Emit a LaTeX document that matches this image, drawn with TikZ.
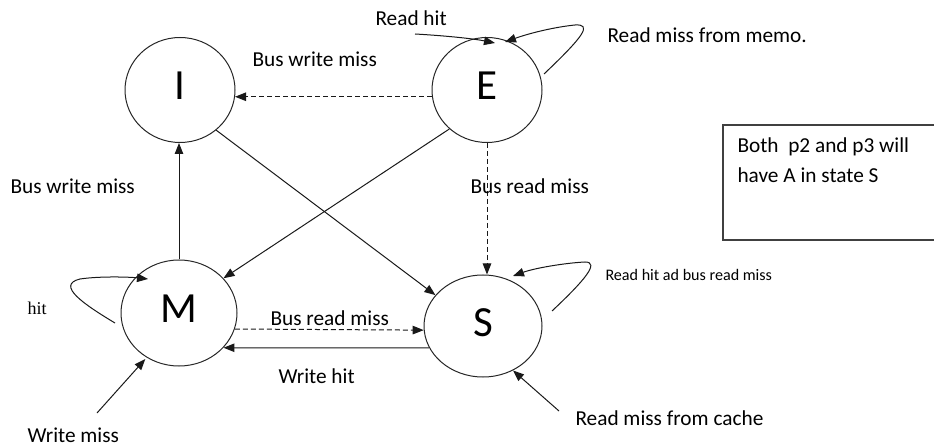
\documentclass[tikz,border=0pt]{standalone}
\usepackage{fontspec}
\setmainfont{Carlito}
\newfontfamily\timesfont{Liberation Serif}
\usetikzlibrary{arrows.meta,shapes.geometric,calc}

\begin{document}
\begin{tikzpicture}[x=1pt,y=-1pt,
  line width=1pt,
  >={Triangle[length=11pt,width=8.5pt]},
  state/.style={draw=black!85, ellipse, inner sep=0pt,
    font=\fontsize{43}{50}\selectfont, text height=28pt, text depth=8pt},
  lbl/.style={anchor=base west, inner sep=0pt, font=\fontsize{21.3}{25}\selectfont},
  smalllbl/.style={anchor=base west, inner sep=0pt, font=\fontsize{16.1}{19}\selectfont},
  trans/.style={draw=black!90, ->},
  bustrans/.style={draw=black!90, ->, dash pattern=on 5pt off 3pt}
]
\useasboundingbox (0,0) rectangle (934,446);

% states
\node[state, minimum width=110pt, minimum height=105pt] (I) at (180,90) {I};
\node[state, minimum width=110pt, minimum height=105pt] (E) at (487,90) {E};
\node[state, minimum width=116pt, minimum height=106pt] (M) at (179,313) {M};
\node[state, minimum width=118pt, minimum height=102pt] (S) at (483,326) {S};

% free ends of the incoming arrows
\coordinate (rh) at (415,34);
\coordinate (wm) at (97,413);
\coordinate (rc) at (559,411);

% transitions between states
\draw[bustrans] (E.187) -- (I.-7);
\draw[trans] (I.-48) -- (S.147);
\draw[trans] (E.226) -- (M.38);
\draw[trans] (M.north) -- (M.north |- I.south);
\draw[bustrans] (E.south) -- (E.south |- S.north);
\draw[bustrans] (M.-16.6) -- (S.184.2);
\draw[trans] (S.202.5) -- (M.-38.8);

% incoming arrows
\draw[trans] (rh) .. controls (450,36) and (475,39) .. ($(E)+(8,-47)$);
\draw[trans, shorten >=2pt] (wm) -- (M.234);
\draw[trans] (rc) -- (S.-56.3);

% self loops
\draw[trans] ($(E)+(57,-16)$) .. controls (585,35) and (592,24) .. (575,25)
  .. controls (555,27) and (530,33) .. ($(E)+(18,-48)$);
\draw[trans] ($(S)+(69,-15)$) .. controls (585,280) and (600,262) .. (585,262)
  .. controls (565,263) and (535,268) .. ($(S)+(30,-50)$);
\draw[trans] ($(M)+(-64,10)$) .. controls (85,305) and (55,285) .. (80,279)
  .. controls (100,276) and (130,277) .. ($(M)+(-31,-34)$);

% labels
\node[lbl] (lrh) at (375,26) {Read hit};
\node[lbl] (lrm) at (607,43) {Read miss from memo.};
\node[lbl] (lbw1) at (252,67) {Bus write miss};
\node[lbl] (lbw2) at (10,194) {Bus write miss};
\node[lbl] (lbr1) at (470,194) {Bus read miss};
\node[lbl] (lbr2) at (270,325) {Bus read miss};
\node[lbl] (lwh) at (278,383) {Write hit};
\node[lbl] (lwm) at (27,442) {Write miss};
\node[anchor=base west, inner sep=0pt, font=\timesfont\fontsize{18}{20}\selectfont] (lhit) at (27,314) {hit};
\node[smalllbl] (lrs) at (605,280) {Read hit ad bus read miss};
\node[lbl] (lrc) at (575,425) {Read miss from cache};

% note box, running past the right edge
\draw[draw=black!75, line width=1.6pt] (940,125) -- (723,125) -- (723,240) -- (940,240);
\node[lbl] (note1) at (737,153) {Both\ \ p2 and p3 will};
\node[lbl] (note2) at (737,183) {have A in state S};
\end{tikzpicture}
\end{document}
